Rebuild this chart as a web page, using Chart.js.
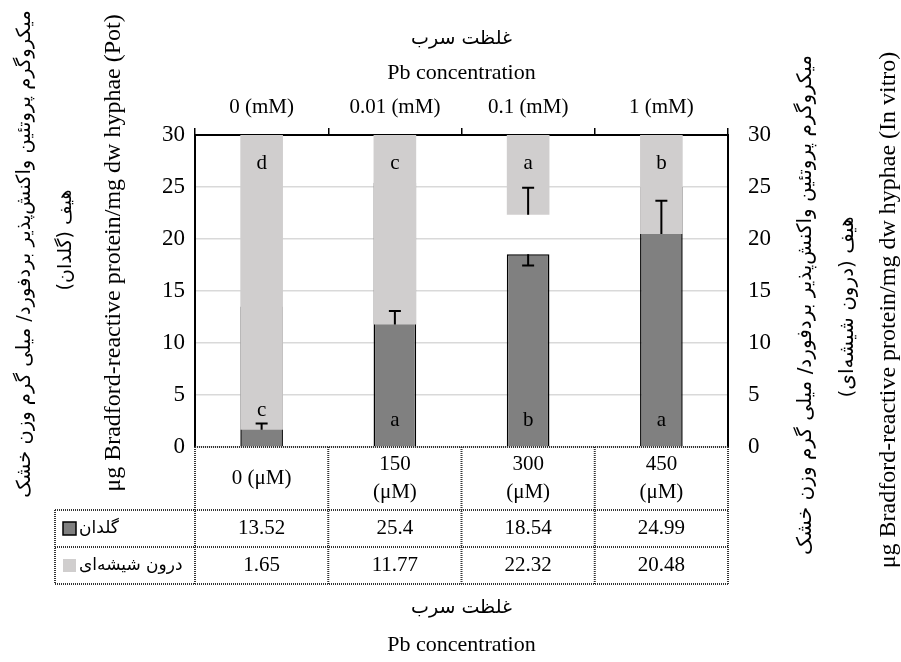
<!DOCTYPE html>
<html>
<head>
<meta charset="utf-8">
<script src="https://cdn.jsdelivr.net/npm/chart.js@4.4.0/dist/chart.umd.min.js"></script>
<style>
  html, body { margin: 0; padding: 0; background: #fff; }
  #wrap { width: 901px; height: 662px; }
</style>
</head>
<body>
<div id="wrap"><canvas id="chart" width="901" height="662"></canvas></div>
<script>
// data
const categoriesTop = ["0 (mM)", "0.01 (mM)", "0.1 (mM)", "1 (mM)"];
const categoriesBottom = [["0 (μM)"], ["150", "(μM)"], ["300", "(μM)"], ["450", "(μM)"]];
const seriesNames = ["گلدان", "درون شیشه‌ای"];
const potValues = [13.52, 25.4, 18.54, 24.99];
const vitroValues = [1.65, 11.77, 22.32, 20.48];
const potErrors = [1.1, 1.3, 1.1, 1.5];
const vitroErrors = [0.6, 1.3, 2.6, 3.2];
const potLetters = ["c", "a", "b", "a"];
const vitroLetters = ["d", "c", "a", "b"];
const yTicks = [0, 5, 10, 15, 20, 25, 30];
const yMax = 30;

const titleFa = "غلظت سرب";
const titleEn = "Pb concentration";
const leftTitle = ["میکروگرم پروتئین واکنش‌پذیر بردفورد/ میلی گرم وزن خشک", "هیف (گلدان)", "μg Bradford-reactive protein/mg dw hyphae (Pot)"];
const rightTitle = ["میکروگرم پروتئین واکنش‌پذیر بردفورد/ میلی گرم وزن خشک", "هیف (درون شیشه‌ای)", "μg Bradford-reactive protein/mg dw hyphae (In vitro)"];

const serif = "'Liberation Serif', 'Times New Roman', serif";
const persian = "'DejaVu Sans', sans-serif";
const darkGray = "#808080";
const lightGray = "#d0cece";

function text(ctx, str, x, y, font, opts = {}) {
    ctx.save();
    ctx.translate(x, y);
    if (opts.rotate) ctx.rotate(opts.rotate);
    ctx.font = font;
    ctx.direction = opts.rtl ? "rtl" : "ltr";
    ctx.textAlign = opts.align || "center";
    ctx.textBaseline = "middle";
    ctx.fillStyle = "#000";
    ctx.fillText(str, 0, 0);
    ctx.restore();
}

function errorBar(ctx, x, y0, y1) {
    ctx.save();
    ctx.strokeStyle = "#000";
    ctx.lineWidth = 2;
    ctx.beginPath();
    ctx.moveTo(x, y0);
    ctx.lineTo(x, y1);
    ctx.moveTo(x - 6, y1);
    ctx.lineTo(x + 6, y1);
    ctx.stroke();
    ctx.restore();
}

const overlay = {
    id: "overlay",
    afterDatasetDraw(chart, args) {
        const ctx = chart.ctx;
        const meta = args.meta;
        if (meta.yAxisID === "y") {
            // pot error bars (minus side), partly hidden by the in-vitro bars
            const ys = chart.scales.y;
            meta.data.forEach((bar, i) => {
                errorBar(ctx, bar.x, ys.getPixelForValue(potValues[i]), ys.getPixelForValue(potValues[i] - potErrors[i]));
            });
        } else {
            const ys = chart.scales.y2;
            meta.data.forEach((bar, i) => {
                errorBar(ctx, bar.x, ys.getPixelForValue(vitroValues[i]), ys.getPixelForValue(vitroValues[i] + vitroErrors[i]));
            });
        }
    },
    afterDatasetsDraw(chart) {
        const ctx = chart.ctx;
        const y = chart.scales.y, y2 = chart.scales.y2;
        const vMeta = chart.getDatasetMeta(0);
        const pMeta = chart.getDatasetMeta(1);
        const f = "21px " + serif;
        const base = y.getPixelForValue(0);
        vMeta.data.forEach((bar, i) => {
            text(ctx, vitroLetters[i], bar.x, y2.getPixelForValue(yMax) + 28, f);
        });
        pMeta.data.forEach((bar, i) => {
            const visTop = y.getPixelForValue(Math.min(potValues[i], vitroValues[i]));
            const capTop = y2.getPixelForValue(vitroValues[i] + vitroErrors[i]);
            const yy = base - visTop > 40 ? base - 27 : capTop - 13;
            text(ctx, potLetters[i], bar.x, yy, f);
        });
    },
    afterDraw(chart) {
        const ctx = chart.ctx;
        const area = chart.chartArea;
        const xs = chart.scales.x;
        const top = area.bottom, hdr = 510, r1 = 547, r2 = 584, legLeft = 55;
        const edges = [0, 1, 2, 3, 4].map(i => xs.getPixelForValue(i - 0.5));

        // table grid (dotted)
        ctx.save();
        ctx.strokeStyle = "#333";
        ctx.lineWidth = 2;
        ctx.setLineDash([1, 1]);
        ctx.beginPath();
        ctx.moveTo(edges[0], top); ctx.lineTo(edges[4], top);
        [hdr, r1, r2].forEach(yy => { ctx.moveTo(legLeft, yy); ctx.lineTo(edges[4], yy); });
        ctx.moveTo(legLeft, hdr); ctx.lineTo(legLeft, r2);
        edges.forEach(ex => { ctx.moveTo(ex, top); ctx.lineTo(ex, r2); });
        ctx.stroke();
        ctx.restore();

        const f = "21px " + serif;
        categoriesBottom.forEach((lines, i) => {
            const cx = xs.getPixelForValue(i);
            const mid = (top + hdr) / 2;
            lines.forEach((ln, k) => {
                text(ctx, ln, cx, mid + (k - (lines.length - 1) / 2) * 28, f);
            });
            text(ctx, String(potValues[i]), cx, (hdr + r1) / 2, f);
            text(ctx, String(vitroValues[i]), cx, (r1 + r2) / 2, f);
        });

        // legend keys inside the table
        ctx.save();
        ctx.fillStyle = darkGray;
        ctx.fillRect(63, 522, 13, 13);
        ctx.strokeStyle = "#000";
        ctx.lineWidth = 1.5;
        ctx.strokeRect(63, 522, 13, 13);
        ctx.fillStyle = lightGray;
        ctx.fillRect(63, 559, 13, 13);
        ctx.restore();
        const pf = "17px " + persian;
        text(ctx, seriesNames[0], 79, (hdr + r1) / 2, pf, { align: "left", rtl: true });
        text(ctx, seriesNames[1], 79, (r1 + r2) / 2, pf, { align: "left", rtl: true });

        // titles
        const cx = (area.left + area.right) / 2;
        text(ctx, titleFa, cx, 39, "19px " + persian, { rtl: true });
        text(ctx, titleEn, cx, 73, "22px " + serif);
        text(ctx, titleFa, cx, 608, "19px " + persian, { rtl: true });
        text(ctx, titleEn, cx, 645, "22px " + serif);

        const rot = -Math.PI / 2;
        text(ctx, leftTitle[0], 25, 254, "19.5px " + persian, { rotate: rot, rtl: true });
        text(ctx, leftTitle[1], 66, 240, "19px " + persian, { rotate: rot, rtl: true });
        text(ctx, leftTitle[2], 114, 253, "24px " + serif, { rotate: rot });
        text(ctx, rightTitle[0], 806, 305, "20px " + persian, { rotate: rot, rtl: true });
        text(ctx, rightTitle[1], 848, 307, "20px " + persian, { rotate: rot, rtl: true });
        text(ctx, rightTitle[2], 889, 310, "24px " + serif, { rotate: rot });
    }
};

const ctx = document.getElementById("chart").getContext("2d");
new Chart(ctx, {
    type: "bar",
    data: {
        labels: categoriesTop,
        datasets: [{
            label: seriesNames[1],
            data: vitroValues.map(v => [v, yMax]),
            yAxisID: "y2",
            backgroundColor: lightGray,
            borderWidth: 0,
            grouped: false,
            order: 0,
            barPercentage: 0.32,
            categoryPercentage: 1
        }, {
            label: seriesNames[0],
            data: potValues,
            yAxisID: "y",
            backgroundColor: darkGray,
            borderColor: "#000",
            borderWidth: 1.5,
            grouped: false,
            order: 1,
            barPercentage: 0.32,
            categoryPercentage: 1
        }]
    },
    options: {
        responsive: false,
        animation: false,
        layout: { padding: { left: 0, right: 0, top: 0, bottom: 215 } },
        plugins: { legend: { display: false }, tooltip: { enabled: false } },
        scales: {
            x: {
                position: "top",
                offset: true,
                grid: { drawOnChartArea: false, drawTicks: true, tickLength: 7, color: "#000", lineWidth: 1.5, offset: true },
                border: { color: "#000", width: 2 },
                ticks: { font: { family: serif, size: 21 }, color: "#000", padding: 8, maxRotation: 0 },
                afterFit: s => { s.height = 135; }
            },
            y: {
                position: "left",
                min: 0, max: yMax,
                afterBuildTicks: s => { s.ticks = yTicks.map(v => ({ value: v })); },
                grid: { color: "#d9d9d9", lineWidth: 1.5, drawTicks: false },
                border: { color: "#000", width: 2 },
                ticks: { font: { family: serif, size: 23 }, color: "#000", padding: 10 },
                afterFit: s => { s.width = 195; }
            },
            y2: {
                position: "right",
                min: 0, max: yMax,
                afterBuildTicks: s => { s.ticks = yTicks.map(v => ({ value: v })); },
                grid: { drawOnChartArea: false, drawTicks: false },
                border: { color: "#000", width: 2 },
                ticks: { font: { family: serif, size: 23 }, color: "#000", padding: 20 },
                afterFit: s => { s.width = 173; }
            }
        }
    },
    plugins: [overlay]
});
</script>
</body>
</html>
